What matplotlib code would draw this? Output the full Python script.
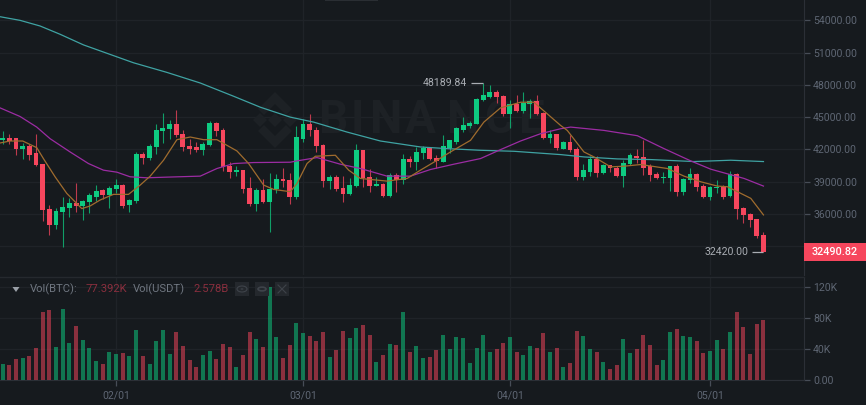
import matplotlib
matplotlib.use("Agg")
import matplotlib.pyplot as plt
from matplotlib.patches import Polygon, Rectangle, Ellipse, Circle

plt.rcParams['font.family'] = ['Roboto', 'DejaVu Sans']

# daily candles, index 0 .. 114
opens = [42845, 43030, 43061, 42044, 42321, 41643, 40626, 36464, 34984, 36155,
         36556, 36988, 36710, 37080, 37604, 38190, 37759, 38344, 38683, 36803,
         37204, 41550, 41242, 42229, 43678, 43863, 44325, 43462, 42321, 42198,
         41920, 42383, 44479, 43832, 40471, 39855, 40071, 38375, 36926, 38221,
         37142, 38282, 39239, 39115, 37574, 43000, 44356, 43832, 42414, 39054,
         39393, 38406, 37851, 38622, 41921, 39424, 38622, 38776, 37666, 39639,
         39177, 41088, 40811, 41643, 42167, 41243, 40873, 42167, 42722, 43832,
         44141, 44356, 46607, 46915, 47347, 46977, 45312, 46206, 45590, 46237,
         46484, 45435, 43031, 43401, 42075, 42691, 42075, 39392, 39947, 41119,
         39762, 40533, 40317, 39547, 40626, 41427, 41304, 40502, 39701, 39300,
         39361, 40441, 38005, 39146, 39701, 38591, 37543, 38375, 38529, 37635,
         39701, 36556, 36032, 35508, 34059]
closes = [43061, 42815, 42075, 42321, 41520, 40533, 36371, 34984, 36278, 36680,
          36988, 36741, 37173, 37728, 38159, 37728, 38437, 38683, 36772, 37296,
          41550, 41242, 42352, 43770, 43986, 44325, 43339, 42229, 42075, 41920,
          42475, 44479, 43709, 40379, 39855, 40071, 38283, 36926, 38190, 37142,
          38313, 39207, 39054, 37574, 43123, 44356, 43771, 42291, 39054, 39393,
          38314, 37882, 38714, 41921, 39300, 38622, 38776, 37666, 39639, 39177,
          41088, 40811, 41736, 42167, 41119, 40903, 42291, 42846, 43956, 44264,
          44480, 46730, 47039, 47347, 46915, 45312, 46237, 45590, 46329, 46484,
          45312, 43031, 43401, 42106, 42722, 41982, 39392, 40071, 41119, 39762,
          40533, 40256, 39547, 40780, 41458, 41181, 40317, 39608, 39331, 39423,
          40441, 38036, 39238, 39701, 38498, 37543, 38467, 38529, 37604, 39701,
          36464, 35939, 35415, 33966, 32490.82]
highs = [43709, 43400, 43092, 42630, 42537, 43400, 40687, 36803, 36587, 37543,
         37481, 38868, 37296, 37913, 38683, 38344, 38591, 39238, 38776, 37358,
         41736, 41797, 42537, 44387, 45404, 44757, 45713, 43832, 43000, 42660,
         42722, 44634, 44541, 44017, 40872, 40441, 40071, 39392, 38375, 39207,
         39762, 39700, 40318, 39763, 44141, 44819, 45312, 44079, 42476, 39578,
         39578, 39516, 39331, 42537, 41982, 40164, 39454, 38899, 39824, 39824,
         41613, 41427, 42229, 42352, 42229, 41458, 43308, 42907, 44079, 45004,
         44634, 46792, 48189.84, 47963, 47532, 47100, 46607, 47100, 47347, 46669,
         47100, 45497, 43771, 43462, 42784, 43308, 42229, 40626, 41365, 41427,
         40626, 40595, 40441, 41057, 41705, 42075, 42907, 40687, 39916, 39886,
         40502, 40687, 39331, 40317, 39824, 38776, 38591, 39146, 38652, 39978,
         39762, 36618, 36124, 35569, 34275]
lows = [42537, 42537, 41458, 41150, 41057, 40471, 35385, 33997, 34583, 32887,
        35693, 36186, 35446, 36124, 37204, 37358, 36587, 37913, 36556, 36186,
        36988, 40687, 40995, 41550, 42599, 43000, 43154, 41828, 41612, 41766,
        41458, 42321, 43215, 40009, 39362, 39547, 37913, 36741, 36278, 37049,
        34275, 37913, 38468, 36926, 37420, 42692, 43246, 41767, 38468, 38345,
        38159, 37142, 37790, 38530, 38468, 38067, 38591, 37543, 37543, 38067,
        38776, 40379, 40071, 41150, 40996, 40318, 40811, 41674, 42476, 43586,
        43956, 44326, 46484, 46792, 46299, 45065, 44017, 45497, 45374, 44942,
        45189, 42969, 42599, 41982, 42013, 41766, 39146, 39146, 39516, 39454,
        39701, 39916, 39454, 38468, 40564, 40749, 39639, 39084, 39208, 38899,
        38159, 37666, 37789, 38838, 38159, 37481, 37327, 37974, 37419, 37604,
        35539, 35200, 34768, 33720, 32420.00]
volumes = [20640, 19350, 27090, 28380, 30960, 41280, 88580, 90300, 43430, 91590,
           48590, 69660, 52460, 41280, 25370, 20640, 36120, 33540, 34830, 30960,
           64500, 31820, 21500, 50310, 64500, 33540, 61920, 44290, 25800, 16770,
           33110, 37410, 27950, 46440, 43430, 16770, 32680, 61920, 52890, 42570,
           120400, 55900, 28380, 45580, 73530, 61490, 57190, 50310, 61920, 29670,
           39130, 63210, 55040, 67080, 71810, 58480, 23220, 32250, 46440, 45150,
           87720, 36120, 44720, 28380, 29670, 39130, 58910, 39990, 55470, 54180,
           21930, 41280, 58050, 36120, 39990, 47730, 55470, 36120, 32250, 43860,
           41280, 60630, 36550, 41280, 16770, 21930, 63210, 57190, 40420, 36120,
           23220, 15050, 19350, 53750, 34830, 39990, 58910, 46010, 19350, 25800,
           62780, 65790, 56760, 55470, 50740, 34830, 38270, 52460, 39990, 61920,
           88580, 68370, 33540, 72240, 77392]

# moving averages, read at sampled days
ma7_days = [-0.4, 1.1, 3, 5.1, 6.1, 7.85, 9.6, 11.85, 13.1, 14.6, 16.6, 18.85,
            20.6, 22.1, 24.1, 26.1, 28.1, 30.1, 32.1, 35.1, 36.85, 39.1, 40.6,
            43.1, 44.1, 45.6, 46.85, 49.85, 51.85, 53.6, 57.6, 60.6, 62.6, 65.1,
            67.1, 70.1, 72.1, 74.6, 77.6, 79.6, 81.6, 83.6, 84.6, 87.1, 88.6,
            91.1, 93.1, 95.6, 99.6, 102.1, 104.6, 107.1, 108.6, 110.1, 112.1, 114]
ma7_values = [42599, 42784, 42784, 42167, 41150, 39454, 37913, 36495, 36741, 37296,
              37820, 37820, 38683, 39516, 40996, 42907, 43154, 42907, 42907, 41859,
              40687, 38683, 38282, 38067, 38838, 40688, 41366, 41458, 40071, 39300,
              39054, 39300, 40071, 40996, 41767, 42846, 44541, 45867, 46391, 46391,
              45312, 44233, 43770, 41766, 41304, 40379, 40441, 40595, 40225, 39516,
              38992, 38591, 38529, 38067, 37450, 35909]
ma25_days = [-0.4, 2.6, 5.1, 7.1, 10.1, 12.85, 15.1, 17.1, 19.1, 21.6, 24.6, 29.6,
             32.1, 34.6, 37.6, 43.1, 44.1, 47.1, 50.6, 53.6, 57.6, 61.1, 64.1,
             67.6, 71.6, 74.6, 77.6, 80.6, 83.6, 85.1, 90.1, 95.1, 99.1, 103.1,
             106.1, 111.1, 114]
ma25_values = [45867, 45065, 44079, 43000, 41766, 40687, 40071, 39886, 39454, 39362,
               39423, 39516, 40225, 40687, 40780, 40811, 40934, 41243, 40626, 40225,
               39516, 39516, 40133, 40626, 41150, 41982, 42784, 43462, 43925, 44079,
               43770, 43277, 42075, 40934, 40163, 39300, 38591]
ma99_days = [-0.4, 2.6, 5.6, 8.6, 12.1, 17.1, 19.6, 24.6, 29.6, 34.6, 38.6, 43.1,
             46.6, 51.6, 56.6, 62.6, 66.6, 71.6, 76.6, 83.6, 87.1, 92.1, 97.1,
             103.6, 109.1, 114]
ma99_values = [54346, 54007, 53483, 52712, 51725, 50616, 50061, 49167, 48180, 46947,
               45929, 45004, 44541, 43616, 42784, 42229, 42075, 41921, 41828, 41520,
               41304, 41119, 41057, 40872, 40996, 40872]

price_ticks = [54000, 51000, 48000, 45000, 42000, 39000, 36000, 33000]
# the 33000 label sits behind the last price tag
price_labels = ['54000.00', '51000.00', '48000.00', '45000.00', '42000.00',
                '39000.00', '36000.00', '']
vol_ticks = [120000, 80000, 40000, 0]
vol_labels = ['120K', '80K', '40K', '0.00']
date_ticks = [17, 45, 76, 106]
date_labels = ['02/01', '03/01', '04/01', '05/01']

BG = '#161A1E'
GRID = '#1F2328'
AXIS = '#2B2F36'
TICK = '#5E6673'
GREEN = '#0ECB81'
RED = '#F6465D'
W, H = 866, 405


def fx(px):
    return px / W


def fy(py):
    return 1 - py / H


def style_axes(ax, yticks, ylabels):
    ax.set_facecolor(BG)
    for name in ['top', 'left', 'bottom']:
        ax.spines[name].set_visible(False)
    ax.spines['right'].set_color(AXIS)
    ax.set_xlim(-0.405, 120)
    ax.set_yticks(yticks)
    ax.set_yticklabels(ylabels)
    ax.yaxis.tick_right()
    ax.tick_params(axis='y', colors=TICK, labelsize=7.6, length=4.5, width=0.9, pad=2.5)
    ax.tick_params(axis='y', color='#474D57')
    ax.set_xticks(date_ticks)
    ax.grid(True, color=GRID, linewidth=0.9)
    ax.set_axisbelow(True)


fig = plt.figure(figsize=(W / 100, H / 100), dpi=100, facecolor=BG)
ax = fig.add_axes([0, fy(275), fx(803.5), 275 / H])
ax_vol = fig.add_axes([0, fy(380.3), fx(803.5), 103.3 / H])

# price panel
style_axes(ax, price_ticks, price_labels)
ax.set_ylim(30320, 55900)
ax.tick_params(axis='x', length=0, labelbottom=False)

# watermark
MARK = '#1D2125'
cx, cy = 275, 120
logo = [
    [(-22, 0), (-15, -7), (-8, 0), (-15, 7)],
    [(-7, 0), (0, -7), (7, 0), (0, 7)],
    [(8, 0), (15, -7), (22, 0), (15, 7)],
    [(-17, -11), (0, -28), (17, -11), (11, -5), (0, -16), (-11, -5)],
    [(-17, 11), (0, 28), (17, 11), (11, 5), (0, 16), (-11, 5)],
]
for shape in logo:
    pts = [(fx(cx + a), fy(cy + b)) for a, b in shape]
    ax.add_patch(Polygon(pts, closed=True, transform=fig.transFigure,
                         facecolor=MARK, edgecolor='none', zorder=0.9))
# letters placed one by one, the word is spaced wider than the font
for px, letter in zip([318, 351, 369, 405, 446, 484, 518], 'BINANCE'):
    ax.text(fx(px), fy(120), letter, transform=fig.transFigure, color=MARK,
            fontsize=33, fontweight='bold', va='center', ha='left', zorder=0.9)

# scrap of the pane title cut off at the top edge
ax.add_patch(Rectangle((fx(325), fy(1.2)), 53 / W, 1.2 / H, transform=fig.transFigure,
                       facecolor='#2A2E33', edgecolor='none', zorder=0.9))

# moving averages
ax.plot(ma99_days, ma99_values, color='#3FA3A3', linewidth=0.9, zorder=4)
ax.plot(ma25_days, ma25_values, color='#9C2CA3', linewidth=0.9, zorder=4)
ax.plot(ma7_days, ma7_values, color='#A06C2E', linewidth=0.9, zorder=4)

days = list(range(len(opens)))
colors = [GREEN if c >= o else RED for o, c in zip(opens, closes)]
bottoms = [min(o, c) for o, c in zip(opens, closes)]
heights = [abs(c - o) for o, c in zip(opens, closes)]
ax.vlines(days, lows, highs, colors=colors, linewidth=0.8, alpha=0.75, zorder=2)
ax.bar(days, heights, bottom=bottoms, width=0.72, color=colors, linewidth=0, zorder=3)

# highest and lowest price marks
LABEL = '#A9ADB3'
hi = highs.index(max(highs))
lo = lows.index(min(lows))
ax.hlines(highs[hi], hi - 1.8, hi, color=LABEL, linewidth=0.9, zorder=5)
ax.hlines(lows[lo], lo - 1.7, lo, color=LABEL, linewidth=0.9, zorder=5)
ax.annotate('%.2f' % highs[hi], xy=(hi - 1.8, highs[hi]), xytext=(-3, 0),
            textcoords='offset points', color=LABEL, fontsize=7.6, ha='right', va='center')
ax.annotate('%.2f' % lows[lo], xy=(lo - 1.7, lows[lo]), xytext=(-3, 0),
            textcoords='offset points', color=LABEL, fontsize=7.6, ha='right', va='center')

# last price tag
fig.patches.append(Rectangle((fx(804), fy(261)), 62 / W, 18 / H, transform=fig.transFigure,
                             facecolor=RED, edgecolor='none', zorder=10, figure=fig))
fig.text(fx(835), fy(252), '%.2f' % closes[-1], color='white', fontsize=7.8,
         fontweight='medium', ha='center', va='center', zorder=11)

# volume panel
style_axes(ax_vol, vol_ticks, vol_labels)
ax_vol.set_ylim(0, 133260)
ax_vol.bar(days, volumes, width=0.6, color=colors, linewidth=0, alpha=0.52, zorder=3)
ax_vol.spines['bottom'].set_visible(True)
ax_vol.spines['bottom'].set_color(AXIS)
ax_vol.set_xticklabels(date_labels)
ax_vol.tick_params(axis='x', colors=TICK, labelsize=7.6, length=4, width=0.9, pad=3)
ax_vol.tick_params(axis='x', color='#474D57')

# separator between panels
fig.add_artist(plt.Line2D([0, fx(803.5)], [fy(276.5), fy(276.5)], color='#25292E', linewidth=1.0))

# volume legend
LEGEND = '#6F7680'
DARK_RED = '#8A2F3E'
legend_items = [(30, 'Vol(BTC):', LEGEND), (86, '77.392K', DARK_RED),
                (133, 'Vol(USDT)', LEGEND), (193, '2.578B', DARK_RED)]
for px, txt, col in legend_items:
    fig.text(fx(px), fy(289), txt, color=col, fontsize=8.1, ha='left', va='center', zorder=6)
fig.add_artist(Polygon([(fx(12.5), fy(287)), (fx(19.5), fy(287)), (fx(16), fy(292))],
                       closed=True, transform=fig.transFigure, facecolor='#9AA0A8',
                       edgecolor='none'))

# eye, gear and close buttons
for px in [235, 255, 275]:
    fig.add_artist(Rectangle((fx(px), fy(296)), 14 / W, 14 / H, transform=fig.transFigure,
                             facecolor='#24282D', edgecolor='none'))
ICON = '#3E434A'
fig.add_artist(Ellipse((fx(242), fy(289)), 10 / W, 6 / H, transform=fig.transFigure,
                       facecolor='none', edgecolor=ICON, linewidth=0.8))
fig.add_artist(Circle((fx(242), fy(289)), 1.5 / W, transform=fig.transFigure,
                      facecolor=ICON, edgecolor='none'))
fig.add_artist(Circle((fx(262), fy(289)), 4 / W, transform=fig.transFigure,
                      facecolor='none', edgecolor=ICON, linewidth=1.2))
fig.add_artist(plt.Line2D([fx(278), fx(286)], [fy(285), fy(293)], color=ICON, linewidth=0.8))
fig.add_artist(plt.Line2D([fx(278), fx(286)], [fy(293), fy(285)], color=ICON, linewidth=0.8))

fig.savefig('out.png', dpi=100, facecolor=BG)
